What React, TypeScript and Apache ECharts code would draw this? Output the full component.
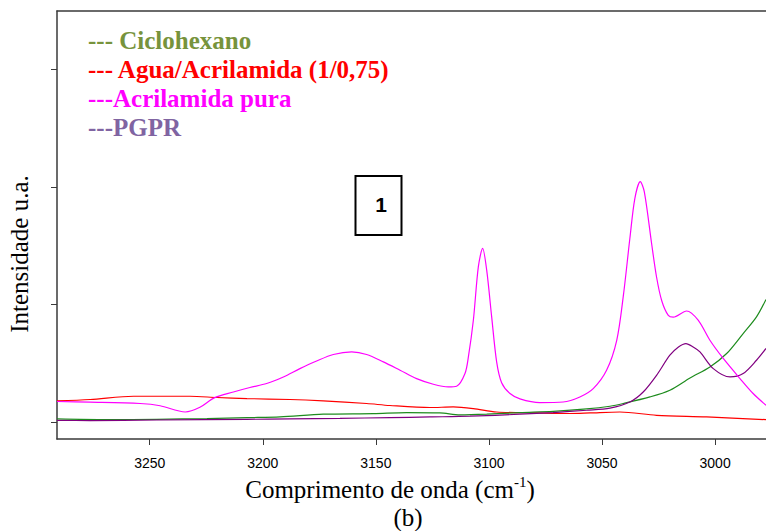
import React, { useEffect, useRef } from "react";
import * as echarts from "echarts";

// Axis ticks
const xTickValues = [3250, 3200, 3150, 3100, 3050, 3000];
const yTickValues = [0, 1, 2, 3];

// Legend labels
const legendLabels = ["--- Ciclohexano", "--- Agua/Acrilamida (1/0,75)", "---Acrilamida pura", "---PGPR"];

// Acrilamida pura (magenta)
const acrilamidaWave = [3291.0, 3276.4, 3254.3, 3245.4, 3234.3, 3227.8, 3221.5, 3213.0, 3205.7, 3198.3, 3190.9, 3183.6, 3176.2, 3168.8, 3160.7, 3154.1, 3146.7, 3139.3, 3132.0, 3124.6, 3118.0, 3114.3, 3110.6, 3109.1, 3106.9, 3104.7, 3102.8, 3101.0, 3098.8, 3096.6, 3094.4, 3090.7, 3086.3, 3077.5, 3067.2, 3059.8, 3053.9, 3048.0, 3043.5, 3040.6, 3037.7, 3035.5, 3033.1, 3031.3, 3028.1, 3025.9, 3023.6, 3020.7, 3018.5, 3012.6, 3007.5, 3002.3, 2996.4, 2989.0, 2983.2, 2977.5];
const acrilamidaInt = [0.174, 0.169, 0.157, 0.138, 0.085, 0.125, 0.205, 0.255, 0.293, 0.327, 0.383, 0.454, 0.519, 0.574, 0.596, 0.574, 0.511, 0.440, 0.369, 0.321, 0.298, 0.304, 0.412, 0.553, 0.865, 1.319, 1.476, 1.291, 0.894, 0.511, 0.334, 0.242, 0.197, 0.165, 0.170, 0.213, 0.284, 0.440, 0.695, 1.07, 1.56, 1.90, 2.044, 1.957, 1.52, 1.233, 1.031, 0.906, 0.891, 0.944, 0.866, 0.695, 0.540, 0.369, 0.242, 0.142];

// Agua/Acrilamida (red)
const aguaWave = [3291.0, 3276.3, 3257.1, 3232.2, 3220.2, 3207.0, 3188.0, 3173.3, 3154.1, 3143.8, 3126.1, 3115.8, 3106.9, 3096.6, 3078.9, 3064.2, 3055.3, 3042.1, 3025.9, 3003.8, 2977.5];
const aguaInt = [0.179, 0.191, 0.219, 0.219, 0.208, 0.199, 0.191, 0.179, 0.157, 0.140, 0.123, 0.128, 0.114, 0.085, 0.077, 0.072, 0.077, 0.085, 0.057, 0.043, 0.020];

// Ciclohexano (green)
const cicloWave = [3291.0, 3268.9, 3246.8, 3224.7, 3207.0, 3192.4, 3173.3, 3151.1, 3136.4, 3121.7, 3112.8, 3101.0, 3086.3, 3071.6, 3056.8, 3046.5, 3040.6, 3028.8, 3020.0, 3011.1, 3002.3, 2994.9, 2987.6, 2981.7, 2977.5];
const cicloInt = [0.026, 0.020, 0.023, 0.029, 0.037, 0.043, 0.066, 0.071, 0.080, 0.077, 0.060, 0.066, 0.080, 0.091, 0.111, 0.134, 0.157, 0.213, 0.270, 0.374, 0.468, 0.582, 0.752, 0.894, 1.042];

// PGPR (purple)
const pgprWave = [3291.0, 3276.4, 3246.8, 3207.0, 3188.0, 3165.9, 3143.8, 3126.1, 3108.4, 3086.3, 3071.6, 3056.8, 3046.5, 3037.7, 3031.8, 3025.9, 3020.0, 3016.2, 3012.9, 3009.7, 3006.7, 3000.8, 2993.4, 2987.6, 2981.7, 2977.5];
const pgprInt = [0.014, 0.012, 0.017, 0.023, 0.026, 0.031, 0.037, 0.043, 0.049, 0.066, 0.080, 0.100, 0.118, 0.170, 0.255, 0.397, 0.568, 0.638, 0.667, 0.638, 0.596, 0.454, 0.383, 0.412, 0.525, 0.625];

const X_MIN = 2977.5;
const X_MAX = 3291.0;
const Y_MIN = -0.1447;
const Y_MAX = 3.495;

const SERIF = "'Liberation Serif', 'Times New Roman', serif";
const SANS = "'Liberation Sans', Arial, sans-serif";

const zip = (a: number[], b: number[]) => a.map((v, i) => [v, b[i]]);

export default function App() {
  const ref = useRef<HTMLDivElement>(null);

  useEffect(() => {
    document.body.style.margin = "0";
    if (!ref.current) return;
    const chart = echarts.init(ref.current, null, { renderer: "svg" });
    const axisColor = "#3a3a3a";
    const legendColors = ["#77933C", "#FF0000", "#FF00FF", "#8064A2"];
    const legendY = [42, 71, 100, 129];

    const lineSeries = (name: string, data: number[][], color: string) => ({
      name,
      type: "line",
      data,
      showSymbol: false,
      symbol: "none",
      smooth: 0.3,
      clip: true,
      lineStyle: { color, width: 1.2 },
      z: 3,
    });

    chart.setOption({
      animation: false,
      backgroundColor: "#ffffff",
      grid: { left: 57, top: 11, right: 0, bottom: 92, containLabel: false },
      xAxis: [
        {
          type: "value",
          min: X_MIN,
          max: X_MAX,
          inverse: true,
          position: "bottom",
          axisLine: { show: true, onZero: false, lineStyle: { color: axisColor, width: 1.5 } },
          axisTick: { show: true, inside: false, length: 6, customValues: xTickValues, lineStyle: { color: axisColor, width: 1 } },
          axisLabel: {
            show: true,
            customValues: xTickValues,
            margin: 17,
            fontSize: 14,
            fontFamily: SANS,
            color: "#000",
            formatter: (v: number) => String(Math.round(v)),
          },
          splitLine: { show: false },
        },
        {
          type: "value",
          min: X_MIN,
          max: X_MAX,
          inverse: true,
          position: "top",
          axisLine: { show: true, onZero: false, lineStyle: { color: axisColor, width: 1.5 } },
          axisTick: { show: false },
          axisLabel: { show: false },
          splitLine: { show: false },
        },
      ],
      yAxis: {
        type: "value",
        min: Y_MIN,
        max: Y_MAX,
        axisLine: { show: true, onZero: false, lineStyle: { color: axisColor, width: 1.5 } },
        axisTick: { show: true, inside: false, length: 6, customValues: yTickValues, lineStyle: { color: axisColor, width: 1 } },
        axisLabel: { show: false },
        splitLine: { show: false },
      },
      series: [
        lineSeries("Agua/Acrilamida (1/0,75)", zip(aguaWave, aguaInt), "#FF0000"),
        lineSeries("Ciclohexano", zip(cicloWave, cicloInt), "#1E8C1E"),
        lineSeries("PGPR", zip(pgprWave, pgprInt), "#800080"),
        lineSeries("Acrilamida pura", zip(acrilamidaWave, acrilamidaInt), "#FF00FF"),
      ],
      graphic: [
        ...legendLabels.map((t, i) => ({
          type: "text",
          left: 88,
          top: legendY[i] - 14,
          style: {
            text: t,
            fill: legendColors[i],
            font: `bold 25px ${SERIF}`,
          },
          z: 10,
        })),
        {
          type: "rect",
          shape: { x: 355.5, y: 176, width: 46, height: 59 },
          style: { fill: "#ffffff", stroke: "#000000", lineWidth: 2 },
          z: 10,
        },
        {
          type: "text",
          x: 381,
          y: 204,
          style: {
            text: "1",
            font: `bold 21px ${SANS}`,
            fill: "#000",
            textAlign: "center",
            textVerticalAlign: "middle",
            align: "center",
            verticalAlign: "middle",
          },
          z: 11,
        },
        {
          type: "text",
          x: 19,
          y: 254,
          rotation: Math.PI / 2,
          style: {
            text: "Intensidade u.a.",
            font: `25px ${SERIF}`,
            fill: "#000",
            textAlign: "center",
            textVerticalAlign: "middle",
            align: "center",
            verticalAlign: "middle",
          },
          z: 10,
        },
        {
          type: "text",
          x: 390,
          y: 489,
          style: {
            text: "{a|Comprimento de onda (cm}{s|-1}{a|)}",
            textAlign: "center",
            textVerticalAlign: "middle",
            align: "center",
            verticalAlign: "middle",
            rich: {
              a: { fontSize: 25, fontFamily: SERIF, fill: "#000", color: "#000", lineHeight: 30 },
              s: { fontSize: 15, fontFamily: SERIF, fill: "#000", color: "#000", lineHeight: 16, verticalAlign: "top" },
            },
          },
          z: 10,
        },
        {
          type: "text",
          x: 408,
          y: 517,
          style: {
            text: "(b)",
            font: `25px ${SERIF}`,
            fill: "#000",
            textAlign: "center",
            textVerticalAlign: "middle",
            align: "center",
            verticalAlign: "middle",
          },
          z: 10,
        },
      ],
    });

    return () => {
      chart.dispose();
    };
  }, []);

  return <div ref={ref} style={{ width: 766, height: 531 }} />;
}
